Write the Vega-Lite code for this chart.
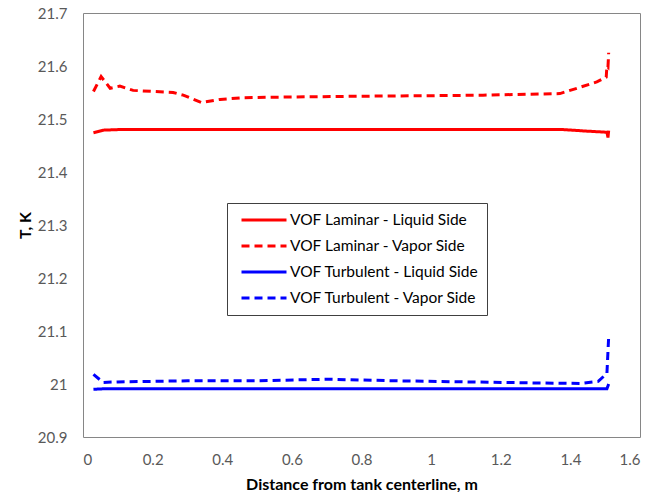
{
  "$schema": "https://vega.github.io/schema/vega-lite/v6.json",
  "width": 557,
  "height": 424,
  "autosize": "none",
  "padding": {"left": 83, "top": 13, "right": 18, "bottom": 55},
  "background": "white",
  "config": {
    "font": "Lato",
    "view": {"stroke": "#868686", "strokeWidth": 1},
    "axis": {"grid": false, "ticks": false, "domain": false, "labelColor": "#595959", "labelFontSize": 15, "labelFont": "Lato", "titleFont": "Lato", "titleFontSize": 16, "titleFontWeight": "bold", "titleColor": "#000000"}
  },
  "data": {"values": [
    {"x": 0.03, "T": 21.474, "s": "VOF Laminar - Liquid Side"},
    {"x": 0.06, "T": 21.479, "s": "VOF Laminar - Liquid Side"},
    {"x": 0.1, "T": 21.48, "s": "VOF Laminar - Liquid Side"},
    {"x": 0.5, "T": 21.48, "s": "VOF Laminar - Liquid Side"},
    {"x": 1.0, "T": 21.48, "s": "VOF Laminar - Liquid Side"},
    {"x": 1.38, "T": 21.48, "s": "VOF Laminar - Liquid Side"},
    {"x": 1.45, "T": 21.477, "s": "VOF Laminar - Liquid Side"},
    {"x": 1.505, "T": 21.475, "s": "VOF Laminar - Liquid Side"},
    {"x": 1.508, "T": 21.465, "s": "VOF Laminar - Liquid Side"},
    {"x": 1.51, "T": 21.478, "s": "VOF Laminar - Liquid Side"},

    {"x": 0.03, "T": 21.552, "s": "VOF Laminar - Vapor Side"},
    {"x": 0.052, "T": 21.58, "s": "VOF Laminar - Vapor Side"},
    {"x": 0.078, "T": 21.558, "s": "VOF Laminar - Vapor Side"},
    {"x": 0.106, "T": 21.562, "s": "VOF Laminar - Vapor Side"},
    {"x": 0.144, "T": 21.554, "s": "VOF Laminar - Vapor Side"},
    {"x": 0.259, "T": 21.55, "s": "VOF Laminar - Vapor Side"},
    {"x": 0.288, "T": 21.545, "s": "VOF Laminar - Vapor Side"},
    {"x": 0.341, "T": 21.531, "s": "VOF Laminar - Vapor Side"},
    {"x": 0.394, "T": 21.537, "s": "VOF Laminar - Vapor Side"},
    {"x": 0.46, "T": 21.54, "s": "VOF Laminar - Vapor Side"},
    {"x": 0.537, "T": 21.541, "s": "VOF Laminar - Vapor Side"},
    {"x": 0.8, "T": 21.543, "s": "VOF Laminar - Vapor Side"},
    {"x": 1.0, "T": 21.544, "s": "VOF Laminar - Vapor Side"},
    {"x": 1.149, "T": 21.545, "s": "VOF Laminar - Vapor Side"},
    {"x": 1.37, "T": 21.548, "s": "VOF Laminar - Vapor Side"},
    {"x": 1.419, "T": 21.558, "s": "VOF Laminar - Vapor Side"},
    {"x": 1.476, "T": 21.57, "s": "VOF Laminar - Vapor Side"},
    {"x": 1.503, "T": 21.579, "s": "VOF Laminar - Vapor Side"},
    {"x": 1.505, "T": 21.6, "s": "VOF Laminar - Vapor Side"},
    {"x": 1.508, "T": 21.598, "s": "VOF Laminar - Vapor Side"},
    {"x": 1.51, "T": 21.625, "s": "VOF Laminar - Vapor Side"},

    {"x": 0.03, "T": 20.99, "s": "VOF Turbulent - Liquid Side"},
    {"x": 0.06, "T": 20.991, "s": "VOF Turbulent - Liquid Side"},
    {"x": 0.5, "T": 20.991, "s": "VOF Turbulent - Liquid Side"},
    {"x": 1.0, "T": 20.991, "s": "VOF Turbulent - Liquid Side"},
    {"x": 1.505, "T": 20.991, "s": "VOF Turbulent - Liquid Side"},
    {"x": 1.51, "T": 21.0, "s": "VOF Turbulent - Liquid Side"},

    {"x": 0.03, "T": 21.018, "s": "VOF Turbulent - Vapor Side"},
    {"x": 0.058, "T": 21.003, "s": "VOF Turbulent - Vapor Side"},
    {"x": 0.1, "T": 21.004, "s": "VOF Turbulent - Vapor Side"},
    {"x": 0.3, "T": 21.006, "s": "VOF Turbulent - Vapor Side"},
    {"x": 0.5, "T": 21.006, "s": "VOF Turbulent - Vapor Side"},
    {"x": 0.7, "T": 21.009, "s": "VOF Turbulent - Vapor Side"},
    {"x": 0.9, "T": 21.006, "s": "VOF Turbulent - Vapor Side"},
    {"x": 1.1, "T": 21.004, "s": "VOF Turbulent - Vapor Side"},
    {"x": 1.3, "T": 21.002, "s": "VOF Turbulent - Vapor Side"},
    {"x": 1.428, "T": 21.001, "s": "VOF Turbulent - Vapor Side"},
    {"x": 1.48, "T": 21.005, "s": "VOF Turbulent - Vapor Side"},
    {"x": 1.505, "T": 21.02, "s": "VOF Turbulent - Vapor Side"},
    {"x": 1.51, "T": 21.089, "s": "VOF Turbulent - Vapor Side"}
  ]},
  "mark": {"type": "line", "strokeWidth": 3, "clip": true},
  "encoding": {
    "x": {"field": "x", "type": "quantitative", "title": "Distance from tank centerline, m",
      "scale": {"domain": [0, 1.6], "nice": false},
      "axis": {"values": [0, 0.2, 0.4, 0.6, 0.8, 1, 1.2, 1.4, 1.6], "labelPadding": 15, "titlePadding": 9, "labelExpr": "format(datum.value, '.1~f')"}},
    "y": {"field": "T", "type": "quantitative", "title": "T, K",
      "scale": {"domain": [20.9, 21.7], "nice": false, "zero": false},
      "axis": {"values": [20.9, 21, 21.1, 21.2, 21.3, 21.4, 21.5, 21.6, 21.7], "labelPadding": 16, "titlePadding": 4, "labelExpr": "format(datum.value, '.1~f')"}},
    "color": {"field": "s", "type": "nominal", "title": null,
      "scale": {"domain": ["VOF Laminar - Liquid Side", "VOF Laminar - Vapor Side", "VOF Turbulent - Liquid Side", "VOF Turbulent - Vapor Side"], "range": ["#ff0000", "#ff0000", "#0000ff", "#0000ff"]},
      "legend": {"orient": "none", "legendX": 144, "legendY": 190, "strokeColor": "#404040", "padding": 8, "symbolType": "M-1,0H5", "symbolSize": 225, "symbolOffset": 5, "symbolStrokeWidth": 3, "labelFontSize": 15.5, "labelFont": "Lato", "labelColor": "#000000", "labelOffset": 32, "labelLimit": 300, "rowPadding": 8, "fillColor": "white"}},
    "strokeDash": {"field": "s", "type": "nominal",
      "scale": {"domain": ["VOF Laminar - Liquid Side", "VOF Laminar - Vapor Side", "VOF Turbulent - Liquid Side", "VOF Turbulent - Vapor Side"], "range": [[1, 0], [8, 5], [1, 0], [8, 5]]},
      "legend": null}
  }
}
